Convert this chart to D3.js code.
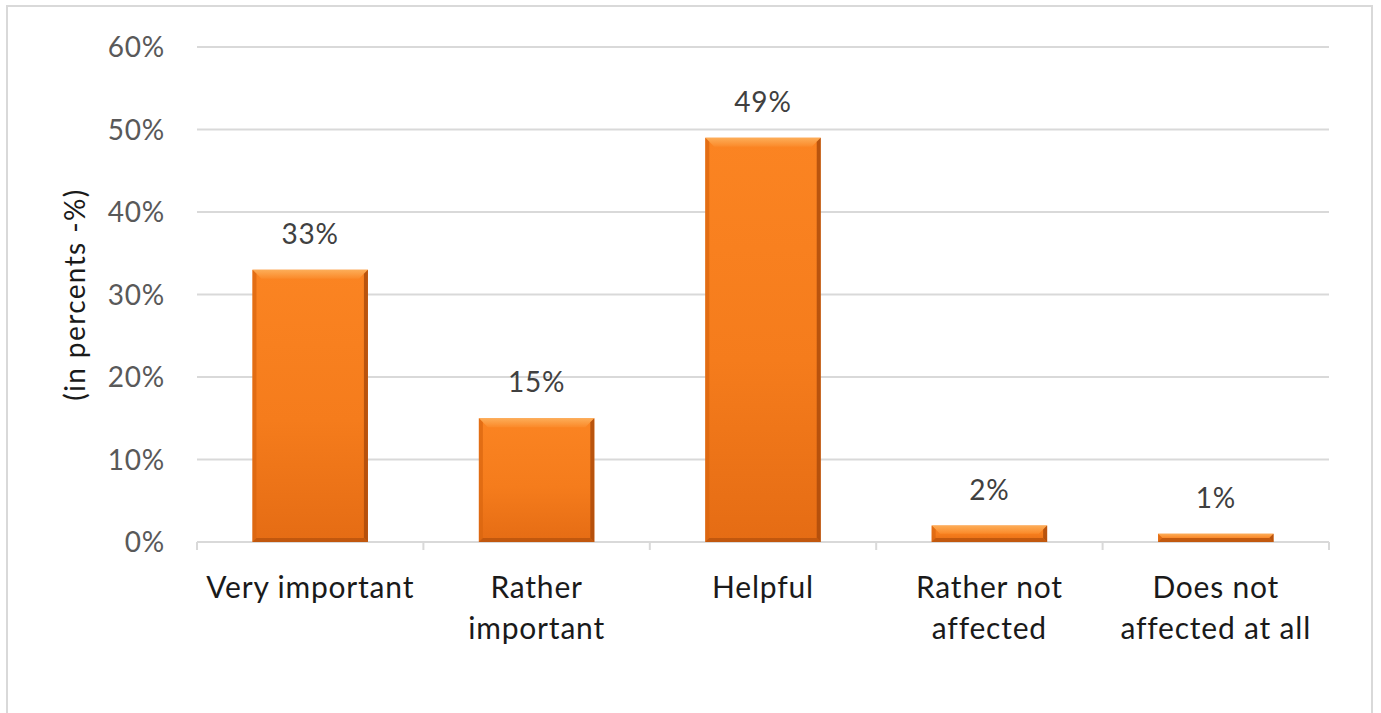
<!DOCTYPE html>
<html>
<head>
<meta charset="utf-8">
<script src="https://cdn.jsdelivr.net/npm/d3@7"></script>
<style>
  body { margin: 0; background: #fff; }
  svg text { font-family: Lato, "Open Sans", sans-serif; }
</style>
</head>
<body>
<div id="chart"></div>
<script>
// data
var categories = ["Very important", "Rather important", "Helpful", "Rather not affected", "Does not affected at all"]
var categoryLines = [["Very important"], ["Rather", "important"], ["Helpful"], ["Rather not", "affected"], ["Does not", "affected at all"]]
var values = [33, 15, 49, 2, 1]
var yTicks = [0, 10, 20, 30, 40, 50, 60]

var W = 1381, H = 713
var margin = {top: 47, right: 52, bottom: 171, left: 197}
var width = W - margin.left - margin.right,
  height = H - margin.top - margin.bottom

var svg = d3.select("#chart")
.append("svg")
  .attr("width", W)
  .attr("height", H)

// outer frame
svg.append("rect")
  .attr("x", 7).attr("y", 6)
  .attr("width", 1365).attr("height", 720)
  .attr("fill", "none")
  .attr("stroke", "#d9d9d9")
  .attr("stroke-width", 2)

var defs = svg.append("defs")
var grad = defs.append("linearGradient")
  .attr("id", "barFill")
  .attr("x1", 0).attr("y1", 0).attr("x2", 0).attr("y2", 1)
grad.append("stop").attr("offset", "0%").attr("stop-color", "#fb8422")
grad.append("stop").attr("offset", "55%").attr("stop-color", "#f57c1c")
grad.append("stop").attr("offset", "100%").attr("stop-color", "#e56c14")

var topGrad = defs.append("linearGradient")
  .attr("id", "topBevel")
  .attr("x1", 0).attr("y1", 0).attr("x2", 0).attr("y2", 1)
topGrad.append("stop").attr("offset", "0%").attr("stop-color", "#fdb25e")
topGrad.append("stop").attr("offset", "100%").attr("stop-color", "#fb8a2a")

var g = svg.append("g")
  .attr("transform", "translate(" + margin.left + "," + margin.top + ")")

var x = d3.scaleBand()
  .domain(categories)
  .range([0, width])
  .paddingInner(0.49)
  .paddingOuter(0.245)

var y = d3.scaleLinear()
  .domain([0, 60])
  .range([height, 0])

// gridlines
g.selectAll(".grid")
  .data(yTicks.filter(function(d) { return d > 0 }))
  .enter()
  .append("line")
    .attr("x1", 0).attr("x2", width)
    .attr("y1", function(d) { return y(d) })
    .attr("y2", function(d) { return y(d) })
    .attr("stroke", "#d9d9d9")
    .attr("stroke-width", 2)

// y tick labels
g.selectAll(".ytick")
  .data(yTicks)
  .enter()
  .append("text")
    .attr("x", -32)
    .attr("y", function(d) { return y(d) })
    .attr("dy", "0.36em")
    .attr("text-anchor", "end")
    .attr("font-size", "28px")
    .attr("letter-spacing", "0.8px")
    .attr("fill", "#595959")
    .text(function(d) { return d + "%" })

// y axis title
g.append("text")
  .attr("transform", "translate(" + (75 - margin.left) + "," + (height / 2) + ") rotate(-90)")
  .attr("text-anchor", "middle")
  .attr("dy", "0.36em")
  .attr("font-size", "28px")
  .attr("letter-spacing", "1.4px")
  .attr("fill", "#1a1a1a")
  .text("(in percents -%)")

// x axis line + ticks at band edges
g.append("line")
  .attr("x1", 0).attr("x2", width)
  .attr("y1", height).attr("y2", height)
  .attr("stroke", "#d9d9d9")
  .attr("stroke-width", 2)

var step = x.step()
g.selectAll(".xtick")
  .data(d3.range(categories.length + 1))
  .enter()
  .append("line")
    .attr("x1", function(i) { return i * step })
    .attr("x2", function(i) { return i * step })
    .attr("y1", height).attr("y2", height + 8)
    .attr("stroke", "#d9d9d9")
    .attr("stroke-width", 2)

// bars with a bevel look
var bars = g.selectAll(".bar")
  .data(values)
  .enter()
  .append("g")
    .attr("class", "bar")
    .attr("transform", function(d, i) { return "translate(" + x(categories[i]) + "," + y(d) + ")" })

bars.each(function(d) {
  var b = d3.select(this)
  var w = x.bandwidth(), h = height - y(d)
  var e = Math.min(9, h / 2), s = Math.min(4, h / 2)
  b.append("rect")
    .attr("width", w).attr("height", h)
    .attr("fill", "url(#barFill)")
  // top bevel (light)
  b.append("path")
    .attr("d", "M0,0 L" + w + ",0 L" + (w - e) + "," + e + " L" + e + "," + e + "Z")
    .attr("fill", "url(#topBevel)").attr("opacity", 0.9)
  // left edge
  b.append("path")
    .attr("d", "M0,0 L" + s + "," + s + " L" + s + "," + (h - s) + " L0," + h + "Z")
    .attr("fill", "#d9650f").attr("opacity", 0.7)
  // right edge (dark)
  b.append("path")
    .attr("d", "M" + w + ",0 L" + w + "," + h + " L" + (w - s) + "," + (h - s) + " L" + (w - s) + "," + s + "Z")
    .attr("fill", "#a9480a").attr("opacity", 0.8)
  // bottom edge
  b.append("path")
    .attr("d", "M0," + h + " L" + s + "," + (h - s) + " L" + (w - s) + "," + (h - s) + " L" + w + "," + h + "Z")
    .attr("fill", "#b8530c").attr("opacity", 0.8)
})

// value labels
g.selectAll(".val")
  .data(values)
  .enter()
  .append("text")
    .attr("x", function(d, i) { return x(categories[i]) + x.bandwidth() / 2 })
    .attr("y", function(d) { return y(d) - 26 })
    .attr("text-anchor", "middle")
    .attr("font-size", "28px")
    .attr("letter-spacing", "0.8px")
    .attr("fill", "#404040")
    .text(function(d) { return d + "%" })

// category labels
g.selectAll(".cat")
  .data(categoryLines)
  .enter()
  .append("text")
    .attr("x", function(d, i) { return x(categories[i]) + x.bandwidth() / 2 })
    .attr("y", height + 56)
    .attr("text-anchor", "middle")
    .attr("font-size", "30px")
    .attr("letter-spacing", "0.8px")
    .attr("fill", "#1a1a1a")
    .each(function(lines) {
      var t = d3.select(this)
      lines.forEach(function(l, j) {
        t.append("tspan")
          .attr("x", t.attr("x"))
          .attr("dy", j === 0 ? 0 : 41)
          .text(l)
      })
    })
</script>
</body>
</html>
